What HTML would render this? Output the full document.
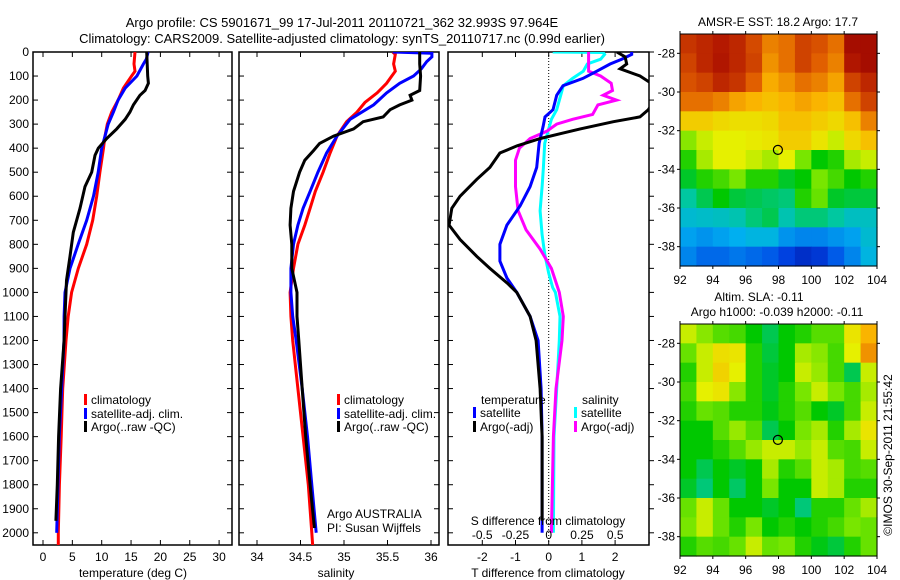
<!DOCTYPE html>
<html><head><meta charset="utf-8"><style>
html,body{margin:0;padding:0;background:#fff;}
svg{display:block;font-family:"Liberation Sans",sans-serif;}
</style></head><body>
<svg id="chart" width="900" height="580" viewBox="0 0 900 580" xmlns="http://www.w3.org/2000/svg">
<defs>
<clipPath id="c1"><rect x="33" y="52" width="199" height="493"/></clipPath>
<clipPath id="c2"><rect x="239" y="52" width="200" height="493"/></clipPath>
<clipPath id="c3"><rect x="448" y="52" width="201" height="493"/></clipPath>
</defs>
<text x="342" y="27" font-size="13" text-anchor="middle">Argo profile: CS 5901671_99 17-Jul-2011 20110721_362 32.993S 97.964E</text>
<text x="342" y="43" font-size="13" text-anchor="middle">Climatology: CARS2009. Satellite-adjusted climatology: synTS_20110717.nc (0.99d earlier)</text>
<g id="g"></g>
</svg>
<script>
// ---------- data ----------
const depthTicks=[0,100,200,300,400,500,600,700,800,900,1000,1100,1200,1300,1400,1500,1600,1700,1800,1900,2000];
const tempTicks=[0,5,10,15,20,25,30];
const salTicks=[34,34.5,35,35.5,36];
const tdTicks=[-2,-1,0,1,2];
const sdTicks=[-0.5,-0.25,0,0.25,0.5];
const sdTickLabels=["-0.5","-0.25","0","0.25","0.5"];

const tClimD=[0,50,80,100,150,200,250,300,350,400,500,600,700,800,900,1000,1100,1200,1400,1600,1800,2000,2054];
const tClimV=[15.67,15.5,15.67,15.1,13.7,12.8,11.7,10.96,10.56,10.3,9.7,9.15,8.46,7.44,6.02,4.88,4.3,3.92,3.35,3.1,2.8,2.6,2.6];
const tSatD=[0,30,50,100,150,200,250,300,350,400,500,600,700,800,900,1000,1100,1200,1400,1600,1800,2000];
const tSatV=[17.9,17.6,17.1,16.0,14.0,12.8,12.0,11.1,10.56,10.0,9.4,8.6,7.44,6.0,4.6,3.75,3.6,3.58,3.18,2.78,2.55,2.33];
const tArgoD=[0,50,100,130,160,180,220,250,280,320,360,400,430,500,560,650,750,850,950,1100,1200,1400,1600,1800,1950];
const tArgoV=[17.67,17.75,17.83,17.95,17.4,16.5,15.4,14.8,14.0,12.55,10.85,9.42,8.86,8.3,7.15,6.3,5.16,4.6,4.0,3.75,3.6,3.0,2.65,2.44,2.2];

const sClimD=[0,10,50,80,100,130,170,210,250,290,350,420,500,580,650,720,800,900,1000,1100,1200,1400,1600,1800,2000,2054];
const sClimV=[35.56,35.59,35.57,35.59,35.55,35.49,35.38,35.24,35.15,35.03,34.92,34.84,34.76,34.67,34.61,34.55,34.47,34.42,34.38,34.39,34.41,34.47,34.53,34.59,34.63,34.64];
const sSatD=[0,5,20,40,70,100,130,170,220,280,350,420,500,580,650,720,800,900,1000,1100,1200,1400,1600,1800,2000];
const sSatV=[35.56,36.01,36.01,35.95,35.89,35.8,35.64,35.49,35.34,35.07,34.92,34.8,34.7,34.61,34.53,34.47,34.42,34.39,34.39,34.41,34.45,34.52,34.58,34.63,34.68];
const sArgoD=[0,50,100,160,180,200,220,240,270,290,320,350,380,410,450,500,580,650,720,800,900,1000,1100,1200,1400,1600,1800,1980];
const sArgoV=[35.87,35.87,35.88,35.87,35.76,35.78,35.64,35.53,35.45,35.22,35.11,34.88,34.72,34.65,34.55,34.49,34.42,34.39,34.38,34.4,34.4,34.46,34.46,34.48,34.52,34.56,34.61,34.66];

const dtSatD=[0,10,30,50,80,110,140,180,240,270,310,380,480,560,640,720,800,870,940,1000,1100,1200,1400,1600,2000];
const dtSatV=[2.5,2.5,2.2,1.85,1.45,1.03,0.43,0.24,0.13,-0.11,-0.17,-0.29,-0.36,-0.56,-0.86,-1.26,-1.47,-1.47,-1.26,-0.96,-0.56,-0.32,-0.23,-0.2,-0.2];
const dtArgoD=[0,20,50,70,100,140,200,240,270,290,320,340,360,390,420,480,530,600,650,720,780,850,900,960,1000,1100,1200,1400,1600,1950];
const dtArgoV=[2.05,2.3,2.35,2.15,2.75,3.2,3.2,3.0,2.75,1.95,0.95,0.35,-0.25,-0.95,-1.47,-1.77,-2.17,-2.67,-2.92,-3.0,-2.67,-2.17,-1.77,-1.26,-0.96,-0.56,-0.38,-0.26,-0.2,-0.2];
const dsSatD=[0,2,10,30,50,80,110,140,180,240,280,320,380,480,560,660,760,840,920,980,1000,1100,1200,1400,1600,2000];
const dsSatV=[0.03,0.41,0.42,0.39,0.29,0.26,0.18,0.11,0.09,0.06,0.02,0,-0.03,-0.04,-0.05,-0.065,-0.05,-0.03,0,0.03,0.05,0.085,0.08,0.06,0.04,0.035];
const dsArgoD=[0,50,80,100,130,160,180,200,220,260,280,300,330,360,400,450,560,660,740,820,900,1000,1100,1200,1400,1600,2000];
const dsArgoV=[0.3,0.3,0.3,0.39,0.47,0.48,0.41,0.51,0.37,0.33,0.18,0.06,-0.015,-0.14,-0.22,-0.25,-0.25,-0.23,-0.17,-0.065,0.02,0.08,0.11,0.1,0.055,0.035,0.02];

const lonTicks=[92,94,96,98,100,102,104];
const latTicks=[-28,-30,-32,-34,-36,-38];
const sstGrid=[
[0.88,0.9,0.92,0.9,0.85,0.78,0.8,0.86,0.84,0.8,0.96,0.96],
[0.86,0.9,0.93,0.9,0.86,0.76,0.8,0.86,0.82,0.78,0.93,0.96],
[0.84,0.86,0.9,0.88,0.82,0.73,0.76,0.8,0.78,0.74,0.86,0.9],
[0.8,0.8,0.78,0.74,0.72,0.7,0.72,0.74,0.72,0.7,0.8,0.86],
[0.68,0.68,0.66,0.65,0.65,0.66,0.7,0.7,0.68,0.66,0.7,0.78],
[0.56,0.6,0.62,0.62,0.63,0.64,0.68,0.68,0.64,0.6,0.66,0.7],
[0.5,0.58,0.62,0.62,0.6,0.58,0.62,0.55,0.48,0.5,0.58,0.6],
[0.46,0.5,0.52,0.55,0.5,0.5,0.46,0.48,0.55,0.52,0.48,0.5],
[0.4,0.44,0.48,0.45,0.44,0.43,0.42,0.5,0.54,0.46,0.45,0.45],
[0.34,0.35,0.36,0.38,0.42,0.44,0.38,0.42,0.42,0.4,0.36,0.36],
[0.28,0.26,0.28,0.3,0.32,0.32,0.26,0.24,0.24,0.26,0.28,0.34],
[0.24,0.2,0.2,0.22,0.2,0.18,0.14,0.1,0.12,0.18,0.24,0.32]];
const slaGrid=[
[0.6,0.56,0.53,0.52,0.48,0.44,0.48,0.5,0.53,0.53,0.64,0.72],
[0.54,0.6,0.65,0.64,0.5,0.45,0.48,0.58,0.56,0.52,0.62,0.76],
[0.5,0.6,0.67,0.62,0.5,0.46,0.48,0.6,0.57,0.52,0.44,0.6],
[0.52,0.62,0.64,0.56,0.5,0.46,0.5,0.55,0.6,0.55,0.52,0.58],
[0.5,0.54,0.53,0.5,0.5,0.47,0.5,0.53,0.48,0.46,0.52,0.6],
[0.48,0.48,0.53,0.57,0.53,0.44,0.48,0.55,0.58,0.5,0.58,0.64],
[0.48,0.48,0.5,0.53,0.57,0.6,0.6,0.57,0.6,0.53,0.52,0.6],
[0.48,0.44,0.48,0.46,0.48,0.58,0.5,0.53,0.6,0.58,0.52,0.53],
[0.46,0.42,0.48,0.43,0.48,0.55,0.48,0.48,0.6,0.58,0.5,0.5],
[0.54,0.6,0.54,0.48,0.48,0.46,0.48,0.42,0.5,0.5,0.54,0.58],
[0.55,0.6,0.54,0.5,0.55,0.48,0.5,0.48,0.5,0.52,0.55,0.54],
[0.5,0.53,0.52,0.54,0.6,0.54,0.55,0.5,0.47,0.45,0.5,0.54]];
const argoLon=[97.964];
const argoLat=[-32.993];

// ---------- helpers ----------
const NS="http://www.w3.org/2000/svg";
const G=document.getElementById('g');
function mk(tag,attrs,parent){const e=document.createElementNS(NS,tag);for(const k in attrs)e.setAttribute(k,attrs[k]);(parent||G).appendChild(e);return e;}
function txt(s,x,y,anchor,size,parent){const t=mk('text',{x:x,y:y,'font-size':size||12,'text-anchor':anchor||'start'},parent);t.textContent=s;return t;}
const yD=d=>52+d*0.2404;
const xT=v=>43+v*5.87;
const xS=v=>257+(v-34)*87;
const xDT=v=>548.7+v*33.2;
const xDS=v=>548.7+v*133;

function frame(x0,x1,name){
  const r=mk('rect',{x:x0,y:52,width:x1-x0,height:493,fill:'none',stroke:'#000','stroke-width':1.5});
  
  
}
function line(D,V,xf,color,clip,name){
  const pts=D.map((d,i)=>xf(V[i]).toFixed(1)+','+yD(d).toFixed(1)).join(' ');
  const p=mk('polyline',{points:pts,fill:'none',stroke:color,'stroke-width':3,'clip-path':'url(#'+clip+')'});
  
  
}
function depthTicksFor(x0,x1,labels,outRight){
  depthTicks.forEach(d=>{
    const y=yD(d);
    mk('line',{x1:x0,y1:y,x2:x0+5,y2:y,stroke:'#000'});
    if(outRight) mk('line',{x1:x1,y1:y,x2:x1+5,y2:y,stroke:'#000'});
    else mk('line',{x1:x1,y1:y,x2:x1-5,y2:y,stroke:'#000'});
    if(labels){const t=txt(String(d),29,y+4,'end',12);
      
      }
  });
}
function xTicks(ticks,labels,xf,ly){
  ticks.forEach((v,i)=>{const x=xf(v);
    mk('line',{x1:x,y1:52,x2:x,y2:57,stroke:'#000'});
    mk('line',{x1:x,y1:545,x2:x,y2:540,stroke:'#000'});
    const t=txt(labels[i],x,ly,'middle',12);
    
    });
}
function legendEntry(x,y,color,label){
  const r=mk('rect',{x:x,y:y-10,width:3,height:11,fill:color});
  
  
  const t=txt(label,x+7,y,'start',12);
  
  
}

// ---------- panel 1: temperature ----------
frame(33,232,'temperature-panel');
depthTicksFor(33,232,true,false);
xTicks(tempTicks,tempTicks.map(String),xT,561);
let t=txt('temperature (deg C)',133,577,'middle',12);


line(tClimD,tClimV,xT,'#ff0000','c1','temp-climatology-line');
line(tSatD,tSatV,xT,'#0000ff','c1','temp-satellite-line');
line(tArgoD,tArgoV,xT,'#000000','c1','temp-argo-line');
legendEntry(84,404,'#ff0000','climatology');
legendEntry(84,418,'#0000ff','satellite-adj. clim.');
legendEntry(84,431,'#000000','Argo(..raw -QC)');

// ---------- panel 2: salinity ----------
frame(239,439,'salinity-panel');
depthTicksFor(239,439,false,false);
xTicks(salTicks,salTicks.map(String),xS,561);
t=txt('salinity',336,577,'middle',12);


line(sClimD,sClimV,xS,'#ff0000','c2','sal-climatology-line');
line(sSatD,sSatV,xS,'#0000ff','c2','sal-satellite-line');
line(sArgoD,sArgoV,xS,'#000000','c2','sal-argo-line');
legendEntry(337,404,'#ff0000','climatology');
legendEntry(337,418,'#0000ff','satellite-adj. clim.');
legendEntry(337,431,'#000000','Argo(..raw -QC)');
t=txt('Argo AUSTRALIA',327,518,'start',12);


t=txt('PI: Susan Wijffels',327,532,'start',12);



// ---------- panel 3: differences ----------
frame(448,649,'difference-panel');
depthTicksFor(448,649,false,true);
xTicks(tdTicks,tdTicks.map(String),xDT,561);
mk('line',{x1:xDT(0),y1:52,x2:xDT(0),y2:545,stroke:'#000','stroke-dasharray':'1,2'});
line(dsSatD,dsSatV,xDS,'#00ffff','c3','sal-diff-satellite-line');
line(dsArgoD,dsArgoV,xDS,'#ff00ff','c3','sal-diff-argo-line');
line(dtSatD,dtSatV,xDT,'#0000ff','c3','temp-diff-satellite-line');
line(dtArgoD,dtArgoV,xDT,'#000000','c3','temp-diff-argo-line');
sdTicks.forEach((v,i)=>{const s=txt(sdTickLabels[i],xDS(v),539,'middle',12);
  
  });
t=txt('S difference from climatology',548,525,'middle',12);


t=txt('T difference from climatology',548,577,'middle',12);


t=txt('temperature',481,404,'start',12);


t=txt('salinity',582,404,'start',12);


legendEntry(473,417,'#0000ff','satellite');
legendEntry(473,431,'#000000','Argo(-adj)');
legendEntry(574,417,'#00ffff','satellite');
legendEntry(574,431,'#ff00ff','Argo(-adj)');

// ---------- maps ----------
const cmapStops=[[0,[0,0,140]],[0.15,[0,70,230]],[0.3,[0,175,240]],[0.4,[0,200,160]],[0.48,[0,200,0]],[0.55,[120,230,0]],[0.62,[230,240,0]],[0.72,[250,180,0]],[0.82,[225,95,0]],[0.92,[180,25,0]],[1,[150,0,0]]];
function cmap(f){
  f=Math.max(0,Math.min(1,f));
  for(let i=1;i<cmapStops.length;i++){
    const [f1,c1]=cmapStops[i];const [f0,c0]=cmapStops[i-1];
    if(f<=f1){const u=(f-f0)/(f1-f0);
      return 'rgb('+c0.map((c,k)=>Math.round(c+(c1[k]-c)*u)).join(',')+')';}
  }
  return 'rgb(150,0,0)';
}
function map(top,grid,name){
  const x0=680,x1=877,h=232;
  const lx=v=>x0+(v-92)*(x1-x0)/12;
  const ly=v=>top+(-27-v)*h/12;
  const grp=mk('g',{});
  
  
  grid.forEach((row,r)=>row.forEach((v,c)=>{
    const cell=mk('rect',{x:lx(92+c).toFixed(2),y:ly(-27-r).toFixed(2),width:(lx(93)-lx(92)+0.6).toFixed(2),height:(ly(-28)-ly(-27)+0.6).toFixed(2),fill:cmap(v)},grp);
    
    
  }));
  mk('rect',{x:x0,y:top,width:x1-x0,height:h,fill:'none',stroke:'#000'});
  lonTicks.forEach(v=>{const x=lx(v);
    mk('line',{x1:x,y1:top,x2:x,y2:top-3,stroke:'#000'});
    mk('line',{x1:x,y1:top+h,x2:x,y2:top+h+3,stroke:'#000'});
    const s=txt(String(v),x,top+h+18,'middle',12);
    
    });
  latTicks.forEach(v=>{const y=ly(v);
    mk('line',{x1:x0,y1:y,x2:x0-3,y2:y,stroke:'#000'});
    mk('line',{x1:x1,y1:y,x2:x1+3,y2:y,stroke:'#000'});
    const s=txt(String(v),675,y+4,'end',12);
    
    });
  const m=mk('circle',{cx:lx(argoLon[0]),cy:ly(argoLat[0]),r:4.5,fill:'none',stroke:'#000','stroke-width':1.2});
  
  
}
map(34,sstGrid,'sst-map');
map(324,slaGrid,'sla-map');
t=txt('AMSR-E SST: 18.2 Argo: 17.7',778,26,'middle',12);


t=txt('Altim. SLA: -0.11',759,301,'middle',12);


t=txt('Argo h1000: -0.039 h2000: -0.11',777,316,'middle',12);


t=txt('©IMOS 30-Sep-2011 21:55:42',0,0,'middle',12);
t.setAttribute('transform','translate(892,455) rotate(-90)');


</script>
</body></html>
